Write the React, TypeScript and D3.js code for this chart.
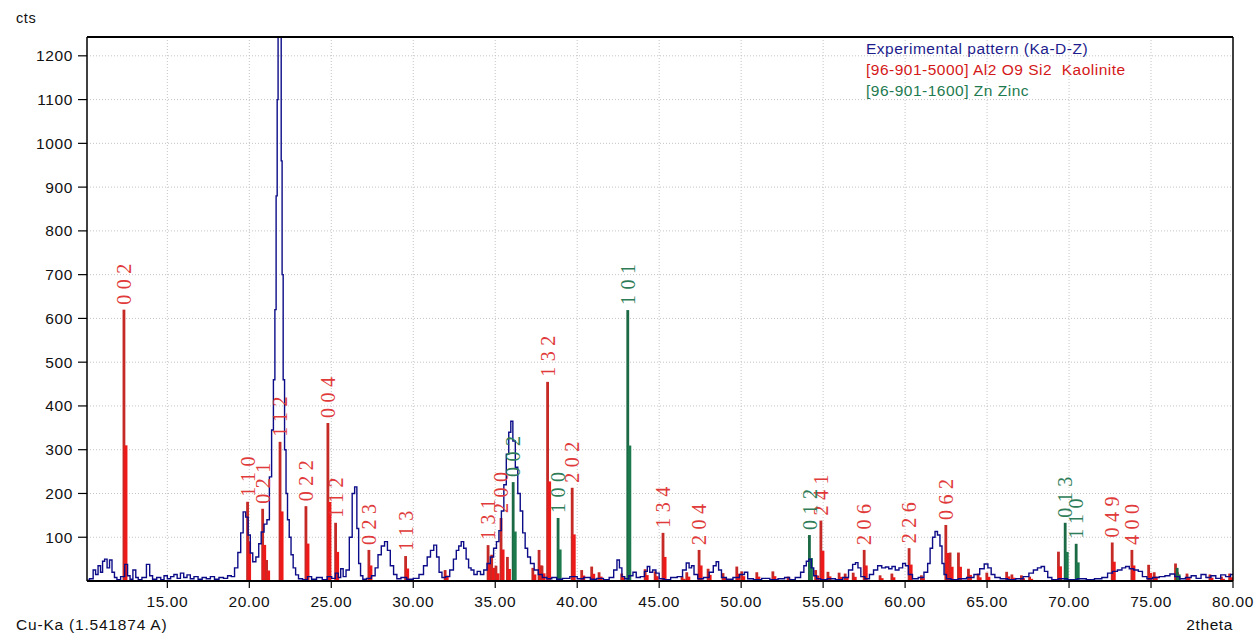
import React from "react";
import * as d3 from "d3";

// ---------- data ----------
const xTicks = [15, 20, 25, 30, 35, 40, 45, 50, 55, 60, 65, 70, 75, 80];
const yTicks = [100, 200, 300, 400, 500, 600, 700, 800, 900, 1000, 1100, 1200];

const legendLabels = [
  "Experimental pattern (Ka-D-Z)",
  "[96-901-5000] Al2 O9 Si2  Kaolinite",
  "[96-901-1600] Zn Zinc",
];

// Kaolinite reference peaks
const kaoAngle = [12.36, 19.9, 20.82, 21.06, 21.88, 23.46, 24.8, 25.27, 27.3, 29.54, 31.95, 34.57, 34.79, 35.05, 35.36, 35.75, 37.3, 37.68, 37.86, 38.2, 39.7, 40.28, 40.89, 41.34, 42.72, 44.15, 44.76, 45.24, 46.4, 46.69, 47.44, 47.99, 48.9, 49.74, 50.04, 50.96, 51.94, 52.87, 54.55, 54.87, 55.3, 55.98, 56.35, 56.84, 57.51, 58.48, 59.2, 60.25, 61.0, 62.49, 62.75, 63.26, 63.87, 64.46, 64.99, 66.2, 66.52, 67.1, 67.6, 69.36, 72.64, 73.84, 74.86, 75.2, 76.5, 77.2, 78.6, 79.3, 79.8];
const kaoCounts = [620, 181, 165, 48, 318, 171, 361, 133, 71, 57, 25, 82, 60, 35, 144, 55, 30, 71, 35, 455, 213, 25, 33, 20, 17, 27, 22, 110, 10, 20, 71, 28, 18, 33, 22, 20, 22, 10, 25, 138, 21, 19, 17, 19, 71, 13, 17, 75, 13, 128, 65, 65, 28, 17, 19, 21, 15, 13, 10, 67, 88, 71, 37, 20, 40, 17, 15, 10, 17];
const kaoHkl = ["002", "110", "021", "", "112", "022", "004", "112", "023", "113", "", "131", "", "", "200", "", "", "", "", "132", "202", "", "", "", "", "", "", "134", "", "", "204", "", "", "", "", "", "", "", "", "241", "", "", "", "", "206", "", "", "226", "", "062", "", "", "", "", "", "", "", "", "", "", "049", "400", "", "", "", "", "", "", ""];

// Zinc reference peaks
const znAngle = [36.1, 38.84, 43.09, 54.17, 69.77, 70.44, 76.6];
const znCounts = [226, 144, 619, 105, 133, 85, 30];
const znHkl = ["002", "100", "101", "012", "013", "110", ""];

// Experimental pattern
const expAngle = [10.1, 10.4, 10.55, 10.7, 10.85, 11.0, 11.1, 11.25, 11.4, 11.55, 11.7, 11.85, 12.0, 12.3, 12.5, 12.65, 12.8, 13.0, 13.15, 13.3, 13.6, 13.85, 14.0, 14.2, 14.5, 14.7, 14.9, 15.1, 15.3, 15.5, 15.7, 15.9, 16.1, 16.3, 16.5, 16.75, 17.0, 17.25, 17.5, 17.75, 18.0, 18.3, 18.55, 18.8, 19.0, 19.2, 19.4, 19.55, 19.7, 19.85, 20.0, 20.12, 20.3, 20.5, 20.65, 20.8, 21.0, 21.15, 21.3, 21.42, 21.52, 21.6, 21.67, 21.73, 21.78, 21.92, 21.97, 22.03, 22.1, 22.2, 22.28, 22.38, 22.49, 22.6, 22.75, 22.9, 23.1, 23.4, 23.7, 23.9, 24.3, 24.6, 24.9, 25.15, 25.35, 25.5, 25.65, 25.8, 26.0, 26.2, 26.35, 26.5, 26.62, 26.72, 26.85, 27.0, 27.3, 27.6, 27.75, 27.95, 28.15, 28.35, 28.5, 28.7, 28.9, 29.1, 29.4, 29.8, 30.2, 30.5, 30.75, 30.95, 31.15, 31.35, 31.5, 31.65, 31.85, 32.1, 32.35, 32.55, 32.7, 32.85, 33.0, 33.15, 33.3, 33.45, 33.6, 33.8, 34.0, 34.2, 34.4, 34.6, 34.8, 35.0, 35.15, 35.3, 35.45, 35.6, 35.75, 35.9, 36.0, 36.15, 36.3, 36.45, 36.6, 36.75, 36.9, 37.05, 37.25, 37.5, 37.75, 38.0, 38.3, 38.6, 38.9, 39.3, 39.8, 40.2, 40.6, 41.0, 41.4, 41.8, 42.1, 42.35, 42.5, 42.65, 42.8, 43.0, 43.3, 43.5, 43.7, 44.0, 44.2, 44.35, 44.5, 44.7, 44.9, 45.1, 45.5, 45.9, 46.3, 46.55, 46.75, 46.9, 47.05, 47.2, 47.5, 47.9, 48.2, 48.4, 48.55, 48.7, 48.9, 49.3, 49.7, 50.1, 50.3, 50.5, 51.0, 51.5, 52.0, 52.5, 52.8, 53.1, 53.5, 53.75, 53.9, 54.05, 54.2, 54.35, 54.5, 54.7, 55.0, 55.5, 56.0, 56.4, 56.7, 56.9, 57.05, 57.2, 57.4, 57.7, 57.95, 58.2, 58.45, 58.7, 58.9, 59.1, 59.3, 59.5, 59.75, 59.95, 60.1, 60.3, 60.6, 61.0, 61.3, 61.45, 61.6, 61.75, 61.9, 62.05, 62.2, 62.3, 62.45, 62.6, 63.0, 63.5, 64.0, 64.4, 64.7, 64.95, 65.15, 65.35, 65.6, 66.0, 66.5, 67.0, 67.4, 67.7, 67.95, 68.2, 68.4, 68.6, 68.8, 69.1, 69.6, 70.2, 70.8, 71.3, 71.8, 72.2, 72.5, 72.8, 73.1, 73.35, 73.55, 73.8, 74.1, 74.35, 74.6, 74.9, 75.3, 75.7, 76.0, 76.3, 76.6, 76.9, 77.3, 77.6, 77.9, 78.2, 78.5, 78.8, 79.1, 79.4, 79.7, 80.0];
const expCounts = [2, 5, 25, 15, 35, 20, 45, 50, 30, 48, 20, 8, 3, 10, 38, 12, 4, 25, 8, 3, 8, 38, 12, 4, 8, 3, 12, 5, 10, 15, 6, 18, 8, 14, 5, 10, 4, 8, 5, 10, 4, 8, 6, 12, 10, 30, 65, 110, 158, 146, 105, 64, 44, 55, 85, 112, 130, 140, 238, 345, 460, 620, 880, 1100, 1300, 1300, 960, 700, 460, 300, 200, 140, 100, 60, 30, 14, 5, 3, 10, 4, 8, 3, 10, 6, 18, 8, 28, 10, 25, 100, 200, 215, 120, 40, 12, 4, 6, 12, 30, 60, 80, 90, 70, 35, 15, 5, 8, 4, 6, 15, 35, 55, 70, 82, 55, 20, 8, 10, 25, 50, 70, 80, 90, 75, 50, 30, 25, 15, 22, 15, 25, 40, 55, 75, 90, 115, 160, 220, 290, 340, 365, 320, 260, 200, 160, 110, 75, 55, 40, 25, 15, 8, 5, 8, 4, 6, 10, 5, 8, 4, 6, 3, 8, 25, 48, 30, 10, 5, 12, 20, 8, 10, 22, 33, 20, 25, 18, 5, 3, 8, 10, 25, 41, 30, 35, 15, 5, 8, 20, 35, 44, 25, 8, 4, 8, 15, 20, 5, 3, 6, 3, 5, 8, 3, 8, 20, 35, 45, 50, 30, 12, 5, 3, 5, 3, 8, 25, 38, 42, 30, 10, 5, 15, 25, 35, 30, 32, 28, 33, 25, 30, 40, 35, 15, 5, 8, 20, 40, 75, 100, 113, 105, 80, 40, 15, 5, 3, 5, 8, 15, 28, 39, 30, 15, 8, 5, 3, 5, 10, 18, 25, 30, 33, 22, 8, 3, 5, 3, 5, 3, 5, 8, 18, 22, 25, 30, 33, 28, 25, 22, 10, 5, 8, 10, 12, 16, 10, 5, 8, 12, 6, 15, 8, 12, 6, 14, 10, 15];

// ---------- layout ----------
const W = 1260;
const H = 636;
const L = 87, R = 1233, T = 37, B = 581;

const RED = "#ee1a1a";
const RED_DARK = "#c62a26";
const RED_TEXT = "#e03a3a";
const GREEN = "#1d7a4c";
const GREEN_DARK = "#1b6a45";
const GREEN_TEXT = "#2e7d58";
const BLUE = "#0c0c88";

export default function App() {
  const x = d3.scaleLinear().domain([10.1, 80]).range([L, R]);
  const y = d3.scaleLinear().domain([0, 1243]).range([B, T]);

  const expData = expAngle.map((a, i) => [a, expCounts[i]] as [number, number]);
  const line = d3
    .line<[number, number]>()
    .x((d) => x(d[0]))
    .y((d) => y(d[1]))
    .curve(d3.curveStep);

  const sans = "Arial, 'Liberation Sans', sans-serif";
  const serif = "'Liberation Serif', 'Times New Roman', serif";

  const peaks = (
    angles: number[],
    counts: number[],
    full: string,
    half: string,
    key: string
  ) =>
    angles.map((a, i) => {
      const px = x(a);
      const top = y(counts[i]);
      const mid = y(counts[i] / 2);
      return (
        <g key={key + i}>
          <rect x={px - 1.5} y={top} width={2.8} height={B - top} fill={full} />
          <rect x={px} y={mid} width={3.4} height={B - mid} fill={half} />
        </g>
      );
    });

  const labels = (angles: number[], counts: number[], hkl: string[], color: string, key: string) =>
    angles.map((a, i) =>
      hkl[i] ? (
        <text
          key={key + i}
          transform={`translate(${x(a) + 7},${y(counts[i]) - 5}) rotate(-90)`}
          fontFamily={serif}
          fontSize={20}
          letterSpacing={5.5}
          fill={color}
        >
          {hkl[i]}
        </text>
      ) : null
    );

  const tickFont = { fontFamily: sans, fontSize: 15.5, letterSpacing: 0.6, fill: "#111" };

  return (
    <svg
      width={W}
      height={H}
      style={{ position: "absolute", left: 0, top: 0, background: "#fff" }}
    >
      <defs>
        <clipPath id="plotClip">
          <rect x={L} y={T} width={R - L} height={B - T} />
        </clipPath>
      </defs>
      <rect x={0} y={0} width={W} height={H} fill="#fff" />

      {/* grid */}
      {xTicks
        .filter((t) => t < 80)
        .map((t) => (
          <line key={"gx" + t} x1={x(t)} x2={x(t)} y1={T} y2={B} stroke="#c4c4c4" strokeDasharray="1,2" />
        ))}
      {yTicks.map((t) => (
        <line key={"gy" + t} x1={L} x2={R} y1={y(t)} y2={y(t)} stroke="#c4c4c4" strokeDasharray="1,2" />
      ))}

      {/* reference peaks and experimental pattern */}
      <g clipPath="url(#plotClip)">
        {peaks(kaoAngle, kaoCounts, RED_DARK, RED, "k")}
        {peaks(znAngle, znCounts, GREEN_DARK, GREEN, "z")}
        <path d={line(expData) || ""} fill="none" stroke={BLUE} strokeWidth={1.4} />
      </g>

      {/* hkl labels */}
      {labels(kaoAngle, kaoCounts, kaoHkl, RED_TEXT, "kl")}
      {labels(znAngle, znCounts, znHkl, GREEN_TEXT, "zl")}

      {/* frame */}
      <line x1={L} x2={R} y1={T} y2={T} stroke="#000" strokeWidth={1.8} />
      <line x1={L} x2={L} y1={T} y2={B} stroke="#000" strokeWidth={1.5} />
      <line x1={R} x2={R} y1={T} y2={B} stroke="#000" strokeWidth={1.5} />
      <line x1={L} x2={R} y1={B} y2={B} stroke="#000" strokeWidth={2} />

      {/* y axis */}
      {yTicks.map((t) => (
        <g key={"yt" + t}>
          <line x1={L - 9} x2={L} y1={y(t)} y2={y(t)} stroke="#000" strokeWidth={1.2} />
          <text x={L - 14} y={y(t) + 5.5} textAnchor="end" {...tickFont}>
            {t}
          </text>
        </g>
      ))}
      {/* x axis */}
      {xTicks.map((t) => (
        <g key={"xt" + t}>
          <line x1={x(t)} x2={x(t)} y1={B} y2={B + 7} stroke="#000" strokeWidth={1.2} />
          <text x={x(t)} y={B + 26} textAnchor="middle" {...tickFont}>
            {t.toFixed(2)}
          </text>
        </g>
      ))}

      <text x={16} y={23} {...tickFont} fontSize={14.5}>cts</text>
      <text x={16} y={630} {...tickFont} letterSpacing={0.8}>Cu-Ka (1.541874 A)</text>
      <text x={R} y={630} textAnchor="end" {...tickFont}>2theta</text>

      {/* legend */}
      <g fontFamily={sans} fontSize={15.5} letterSpacing={0.5}>
        <text x={866} y={54} fill="#1c1c8c" xmlSpace="preserve">{legendLabels[0]}</text>
        <text x={866} y={75} fill="#d41818" xmlSpace="preserve">{legendLabels[1]}</text>
        <text x={866} y={96} fill="#1e7a50" xmlSpace="preserve">{legendLabels[2]}</text>
      </g>
    </svg>
  );
}
